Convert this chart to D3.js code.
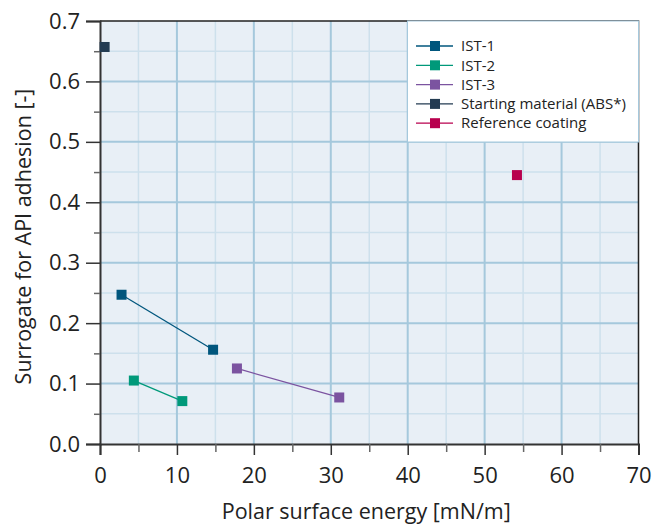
<!DOCTYPE html>
<html>
<head>
<meta charset="utf-8">
<script src="https://cdn.jsdelivr.net/npm/d3@7"></script>
<style>
  html, body { margin: 0; padding: 0; background: #fff; }
  svg { display: block; font-family: "Open Sans", "Noto Sans", sans-serif; font-weight: 400; }
</style>
</head>
<body>
<svg id="chart" width="666" height="524"></svg>
<script>
// Series: polar surface energy (x) vs. surrogate for API adhesion (y)
const seriesNames = ["IST-1", "IST-2", "IST-3", "Starting material (ABS*)", "Reference coating"];
const seriesColors = ["#00567d", "#00997a", "#7b53a0", "#233b52", "#b8004e"];
const ist1X = [2.8, 14.7];
const ist1Y = [0.247, 0.156];
const ist2X = [4.4, 10.7];
const ist2Y = [0.105, 0.071];
const ist3X = [17.8, 31.1];
const ist3Y = [0.125, 0.077];
const startX = [0.6];
const startY = [0.657];
const refX = [54.2];
const refY = [0.445];

const xTicks = [0, 10, 20, 30, 40, 50, 60, 70];
const yTicks = [0.0, 0.1, 0.2, 0.3, 0.4, 0.5, 0.6, 0.7];
const xMinor = [5, 15, 25, 35, 45, 55, 65];
const yMinor = [0.05, 0.15, 0.25, 0.35, 0.45, 0.55, 0.65];

const seriesX = [ist1X, ist2X, ist3X, startX, refX];
const seriesY = [ist1Y, ist2Y, ist3Y, startY, refY];
const series = seriesNames.map((name, i) => ({
  name, color: seriesColors[i],
  points: seriesX[i].map((x, j) => ({ x, y: seriesY[i][j] }))
}));

const svg = d3.select("#chart");
const pL = 100, pR = 638.5, pT = 21, pB = 444;

const x = d3.scaleLinear().domain([0, 70]).range([pL, pR]);
const y = d3.scaleLinear().domain([0, 0.7]).range([pB, pT]);

// plot background
svg.append("rect")
  .attr("x", pL).attr("y", pT)
  .attr("width", pR - pL).attr("height", pB - pT)
  .attr("fill", "#e8eff6");

// minor grid
const grid = svg.append("g");
grid.selectAll(".vmin").data(xMinor).join("line")
  .attr("x1", d => x(d)).attr("x2", d => x(d))
  .attr("y1", pT).attr("y2", pB)
  .attr("stroke", "#cde0ec").attr("stroke-width", 1.5);
grid.selectAll(".hmin").data(yMinor).join("line")
  .attr("y1", d => y(d)).attr("y2", d => y(d))
  .attr("x1", pL).attr("x2", pR)
  .attr("stroke", "#cde0ec").attr("stroke-width", 1.5);
// major grid
grid.selectAll(".vmaj").data(xTicks.slice(1, -1)).join("line")
  .attr("x1", d => x(d)).attr("x2", d => x(d))
  .attr("y1", pT).attr("y2", pB)
  .attr("stroke", "#a5c8dc").attr("stroke-width", 2);
grid.selectAll(".hmaj").data(yTicks.slice(1, -1)).join("line")
  .attr("y1", d => y(d)).attr("y2", d => y(d))
  .attr("x1", pL).attr("x2", pR)
  .attr("stroke", "#a5c8dc").attr("stroke-width", 2);

// frame: top and right
svg.append("path")
  .attr("d", `M${pL},${pT}H${pR}V${pB}`)
  .attr("fill", "none").attr("stroke", "#222").attr("stroke-width", 1.5);

// axes
const xAxis = svg.append("g").attr("transform", `translate(0,${pB})`)
  .call(d3.axisBottom(x).tickValues(xTicks).tickFormat(d3.format("d")).tickSize(11).tickPadding(12));
const xAxisMinor = svg.append("g").attr("transform", `translate(0,${pB})`)
  .call(d3.axisBottom(x).tickValues(xMinor).tickFormat("").tickSize(8));
const yAxis = svg.append("g").attr("transform", `translate(${pL},0)`)
  .call(d3.axisLeft(y).tickValues(yTicks).tickFormat(d3.format(".1f")).tickSize(14).tickPadding(6));
const yAxisMinor = svg.append("g").attr("transform", `translate(${pL},0)`)
  .call(d3.axisLeft(y).tickValues(yMinor).tickFormat("").tickSize(6));

[xAxis, yAxis].forEach(a => {
  a.select(".domain").attr("stroke", "#333").attr("stroke-width", 2);
  a.selectAll(".tick line").attr("stroke", "#333").attr("stroke-width", 1.5);
  a.selectAll(".tick text").attr("fill", "#222").attr("font-size", 22)
    .attr("font-family", "'Open Sans', 'Noto Sans', sans-serif").attr("font-weight", 400);
});
[xAxisMinor, yAxisMinor].forEach(a => {
  a.select(".domain").remove();
  a.selectAll(".tick line").attr("stroke", "#666").attr("stroke-width", 1.5);
});

// axis titles
svg.append("text")
  .attr("x", (pL + pR) / 2 - 3).attr("y", 519)
  .attr("text-anchor", "middle").attr("font-size", 21.5).attr("fill", "#222")
  .text("Polar surface energy [mN/m]");
svg.append("text")
  .attr("transform", `translate(31,${(pT + pB) / 2 + 4}) rotate(-90)`)
  .attr("text-anchor", "middle").attr("font-size", 21.5).attr("fill", "#222")
  .text("Surrogate for API adhesion [-]");

// series lines and markers
const line = d3.line().x(d => x(d.x)).y(d => y(d.y));
const marks = svg.append("g");
series.forEach(s => {
  if (s.points.length > 1) {
    marks.append("path").datum(s.points)
      .attr("d", line).attr("fill", "none")
      .attr("stroke", s.color).attr("stroke-width", 1.3);
  }
  marks.selectAll(null).data(s.points).join("rect")
    .attr("x", d => x(d.x) - 5).attr("y", d => y(d.y) - 5)
    .attr("width", 10).attr("height", 10)
    .attr("fill", s.color);
});

// legend
const lg = svg.append("g");
lg.append("rect")
  .attr("x", 407.5).attr("y", pT).attr("width", pR - 407.5).attr("height", 142 - pT)
  .attr("fill", "#fff").attr("stroke", "#a5c8dc").attr("stroke-width", 1);
series.forEach((s, i) => {
  const cy = 46 + i * 19.3;
  lg.append("line").attr("x1", 416).attr("x2", 453).attr("y1", cy).attr("y2", cy)
    .attr("stroke", s.color).attr("stroke-width", 1.3);
  lg.append("rect").attr("x", 430).attr("y", cy - 5).attr("width", 10).attr("height", 10)
    .attr("fill", s.color);
  lg.append("text").attr("x", 461).attr("y", cy).attr("dy", "0.35em")
    .attr("font-size", 15).attr("fill", "#222").text(s.name);
});
</script>
</body>
</html>
